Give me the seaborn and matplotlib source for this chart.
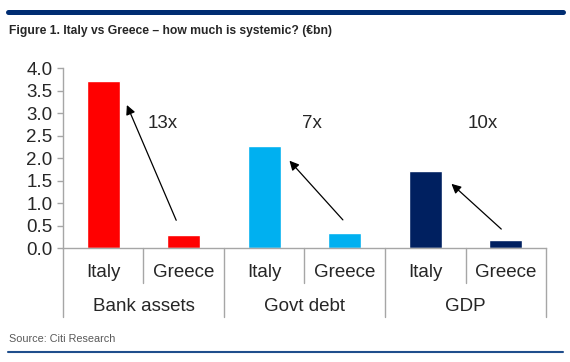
import pandas as pd
import matplotlib.pyplot as plt
import seaborn as sns
from matplotlib.lines import Line2D

sns.set_style("white")
plt.rcParams['font.family'] = ['Liberation Sans', 'DejaVu Sans']

groups = ['Bank assets', 'Govt debt', 'GDP']
countries = ['Italy', 'Greece']
values = [3.72, 0.29, 2.27, 0.33, 1.72, 0.18]
colours = ['#FF0000', '#FF0000', '#00B0F0', '#00B0F0', '#002060', '#002060']
ratios = ['13x', '7x', '10x']

keys = [g + ' ' + c for g in groups for c in countries]
df = pd.DataFrame({'key': keys, 'value': values})

fig = plt.figure(figsize=(5.7, 3.62), dpi=100)
ax = fig.add_axes([0.1105, 0.3149, 0.8474, 0.4964])
sns.barplot(data=df, x='key', y='value', hue='key', order=keys, hue_order=keys,
            palette=dict(zip(keys, colours)), width=0.41, saturation=1,
            legend=False, ax=ax)

ax.set_xlim(-0.5, 5.5)
ax.set_ylim(0, 4)
ax.set_yticks([i * 0.5 for i in range(9)])
ax.set_yticklabels(['%.1f' % (i * 0.5) for i in range(9)], fontsize=13.5)
ax.set_xticks([])
ax.set_xlabel('')
ax.set_ylabel('')
sns.despine(ax=ax)
for s in ['left', 'bottom']:
    ax.spines[s].set_color('#A6A6A6')
    ax.spines[s].set_linewidth(1)
ax.tick_params(axis='y', length=4.5, width=1, color='#A6A6A6', pad=3, direction='out', left=True)

# hierarchical category axis
tr = ax.get_xaxis_transform()
for i in range(7):
    xpos = i - 0.5
    low = -0.384 if i % 2 == 0 else -0.195
    ax.plot([xpos, xpos], [0, low], transform=tr, color='#A6A6A6', lw=1, clip_on=False)
for i, k in enumerate(keys):
    ax.text(i, -0.134, countries[i % 2], transform=tr, ha='center', va='center', fontsize=13.5)
for j, g in enumerate(groups):
    ax.text(2 * j + 0.5, -0.323, g, transform=tr, ha='center', va='center', fontsize=13.5)

# arrows from Greece to Italy
tails = [(0.92, 0.56), (3.0, 0.58), (4.97, 0.38)]
heads = [(0.28, 3.24), (2.29, 1.99), (4.30, 1.47)]
label_x = [0.74, 2.59, 4.72]
for t, h, lx, r in zip(tails, heads, label_x, ratios):
    ax.annotate('', xy=h, xytext=t,
                arrowprops=dict(arrowstyle='-|>', color='black', lw=0.9, mutation_scale=14))
    ax.text(lx, 2.78, r, ha='center', va='center', fontsize=13.5)

# title, source and rules
fig.add_artist(Line2D([0.014, 0.988], [0.968, 0.968], color='#002D72', lw=3.6))
fig.add_artist(Line2D([0.014, 0.988], [0.028, 0.028], color='#1F4E8C', lw=1.5))
fig.text(0.016, 0.914, 'Figure 1. Italy vs Greece \u2013 how much is systemic? (\u20acbn)',
         fontsize=8.7, fontweight='bold', va='center')
fig.text(0.016, 0.063, 'Source: Citi Research', fontsize=7.8, color='#595959', va='center')

fig.savefig('out.png', dpi=100)
